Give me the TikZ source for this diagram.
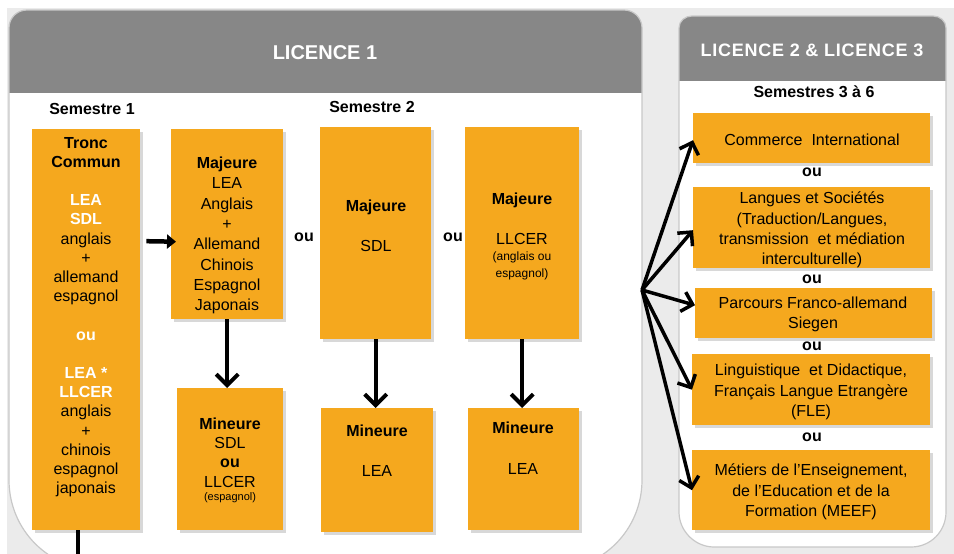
\documentclass[tikz,border=0pt]{standalone}
\usepackage{fontspec}
\setmainfont{Liberation Sans}
\usetikzlibrary{arrows.meta,shadows,calc}
\definecolor{org}{HTML}{F5A81E}
\definecolor{hdr}{HTML}{878787}
\definecolor{bgc}{HTML}{EBEBEB}
\definecolor{edgec}{HTML}{C8C8C8}
\newcommand\bw[1]{\textbf{\color{white}#1}}
\begin{document}
\begin{tikzpicture}[x=1pt,y=-1pt,
  box/.style={fill=org, inner sep=0pt, anchor=north west,
    drop shadow={shadow xshift=2.5pt, shadow yshift=-2.5pt, opacity=0.3}},
  txt/.style={align=center, inner sep=0pt, font=\fontsize{16}{20}\selectfont},
  ou/.style={inner sep=0pt, font=\fontsize{16}{18}\selectfont\bfseries},
  sem/.style={inner sep=0pt, font=\fontsize{16}{18}\selectfont\bfseries},
  varrow/.style={line width=4pt, -{Straight Barb[length=11pt,width=22pt]}},
  farrow/.style={line width=3.5pt, -{Straight Barb[length=10pt,width=20pt]}},
  harrow/.style={line width=4.5pt, -{Triangle[length=9pt,width=14pt]}}]
\useasboundingbox (0,0) rectangle (954,554);
\clip (0,0) rectangle (954,554);
\fill[white] (0,0) rectangle (954,554);
\fill[bgc] (7,8) rectangle (954,554);
% left panel
\def\leftpanel{(9,480) -- (9,28) .. controls (9,18) and (17,10) .. (27,10) -- (624,10) .. controls (634,10) and (642,18) .. (642,28) -- (642,480) .. controls (642,530) and (602,570) .. (552,570) -- (99,570) .. controls (49,570) and (9,530) .. (9,480) -- cycle}
\fill[white] \leftpanel;
\begin{scope}
\clip \leftpanel;
\fill[hdr] (0,0) rectangle (700,93);
\end{scope}
\draw[edgec, line width=1.2pt] \leftpanel;
% right panel
\def\rightpanel{(679,500) -- (679,28) .. controls (679,21) and (685,16) .. (692,16) -- (933,16) .. controls (940,16) and (946,21) .. (946,28) -- (946,512) .. controls (946,531) and (931,547) .. (911,547) -- (714,547) .. controls (695,547) and (679,531) .. (679,512) -- cycle}
\fill[white] \rightpanel;
\begin{scope}
\clip \rightpanel;
\fill[hdr] (670,0) rectangle (954,81);
\end{scope}
\draw[edgec, line width=1.2pt] \rightpanel;
% headers
\node[inner sep=0pt, text=white, font=\fontsize{20}{22}\selectfont\bfseries] (h1) at (325,53) {LICENCE 1};
\node[inner sep=0pt, text=white, font=\fontsize{18}{20}\selectfont\bfseries\addfontfeature{LetterSpace=4}] (h2) at (812,50) {LICENCE 2 \& LICENCE 3};
\node[sem] (s1) at (92,109) {Semestre 1};
\node[sem] (s2) at (372,107) {Semestre 2};
\node[sem] (s3) at (814,92) {Semestres 3 à 6};
% boxes
\node[box, minimum width=108pt, minimum height=401pt] (tc) at (32,129) {};
\node[box, minimum width=112pt, minimum height=190pt] (ma) at (171,129) {};
\node[box, minimum width=106pt, minimum height=142pt] (mi) at (177,388) {};
\node[box, minimum width=111pt, minimum height=212pt] (ms) at (320,127) {};
\node[box, minimum width=112pt, minimum height=124pt] (mn) at (321,408) {};
\node[box, minimum width=114pt, minimum height=212pt] (ml) at (465,127) {};
\node[box, minimum width=111pt, minimum height=122pt] (mr) at (468,408) {};
\node[box, minimum width=237pt, minimum height=50pt] (ci) at (693,113) {};
\node[box, minimum width=237pt, minimum height=81pt] (ls) at (693,187) {};
\node[box, minimum width=237pt, minimum height=50pt] (pf) at (695,288) {};
\node[box, minimum width=238pt, minimum height=71pt] (li) at (692,354) {};
\node[box, minimum width=238pt, minimum height=80pt] (me) at (692,450) {};
% texts
\node[txt, font=\fontsize{16}{19.2}\selectfont] (tct) at (86,317) {\textbf{Tronc}\\\textbf{Commun}\\[19.2pt]\bw{LEA}\\\bw{SDL}\\anglais\\+\\allemand\\espagnol\\[19.2pt]\bw{ou}\\[19.2pt]\bw{LEA *}\\\bw{LLCER}\\anglais\\+\\chinois\\espagnol\\japonais};
\node[txt, font=\fontsize{16}{20.3}\selectfont] (mat) at (227,235.5) {\textbf{Majeure}\\LEA\\Anglais\\+\\Allemand\\Chinois\\Espagnol\\Japonais};
\node[txt, font=\fontsize{16}{19.3}\selectfont] (mit) at (230,452.5) {\textbf{Mineure}\\SDL\\\textbf{ou}\\LLCER};
\node[txt, font=\fontsize{11}{13}\selectfont] (mis) at (230,498) {(espagnol)};
\node[txt] (mst) at (376,225.5) {\textbf{Majeure}\\[20pt]SDL};
\node[txt] (mnt) at (377,450.5) {\textbf{Mineure}\\[20pt]LEA};
\node[txt] (mlt) at (522,218.5) {\textbf{Majeure}\\[20pt]LLCER};
\node[txt, font=\fontsize{12}{17}\selectfont] (mls) at (522,265.5) {(anglais ou\\espagnol)};
\node[txt] (mrt) at (523,448) {\textbf{Mineure}\\[21pt]LEA};
\node[txt] (cit) at (812,140) {Commerce\ \ International};
\node[txt, font=\fontsize{16}{20.3}\selectfont] (lst) at (812,230) {Langues et Sociétés\\(Traduction/Langues,\\transmission\ \ et médiation\\interculturelle)};
\node[txt] (pft) at (813,314.5) {Parcours Franco-allemand\\Siegen};
\node[txt, font=\fontsize{16}{20.5}\selectfont] (lit) at (811,392) {Linguistique\ \ et Didactique,\\Français Langue Etrangère\\(FLE)};
\node[txt, font=\fontsize{16}{20.5}\selectfont] (met) at (811,492) {Métiers de l’Enseignement,\\de l’Education et de la\\Formation (MEEF)};
% ou labels
\node[ou] (o1) at (304,237) {ou};
\node[ou] (o2) at (453,237) {ou};
\node[ou] (o3) at (812,172) {ou};
\node[ou] (o4) at (812,279) {ou};
\node[ou] (o5) at (812,346) {ou};
\node[ou] (o6) at (812,437) {ou};
% connectors
\draw[harrow] ([xshift=6pt,yshift=88.5pt]tc.east) -- ([xshift=5pt,yshift=-17.5pt]ma.west);
\draw[varrow] (ma.south) -- (ma.south |- mi.north);
\draw[varrow] (ms.south) -- (ms.south |- mn.north);
\draw[varrow] (ml.south) -- (ml.south |- mr.north);
\coordinate (tcend) at (77.5,565);
\draw[line width=4pt] (tc.south -| tcend) -- (tcend);
\coordinate (fan) at (642,290);
\draw[farrow] (fan) -- ([yshift=-2pt]ci.west);
\draw[farrow] (fan) -- ([yshift=-2.5pt]ls.west);
\draw[farrow] (fan) -- ([yshift=8pt]pf.west);
\draw[farrow] (fan) -- (li.west);
\draw[farrow] (fan) -- (me.west);
\end{tikzpicture}
\end{document}
